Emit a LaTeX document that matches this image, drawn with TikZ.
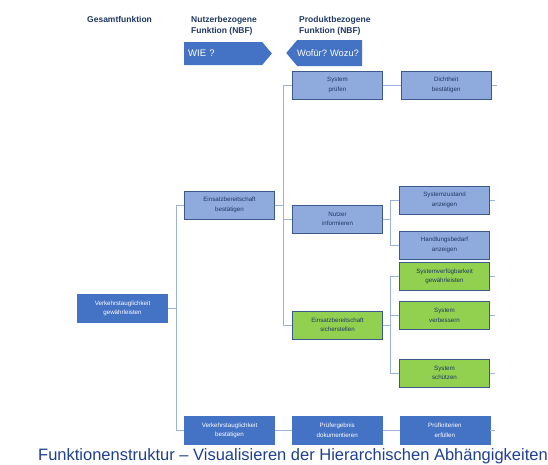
\documentclass[tikz,border=0pt]{standalone}
\usepackage{fontspec}
\setmainfont{Liberation Sans}
\usepackage{tikz}
\usetikzlibrary{positioning, shapes.symbols}
\definecolor{nbfblue}{HTML}{4472C4}
\definecolor{paleblue}{HTML}{8FAADC}
\definecolor{fitgreen}{HTML}{92D050}
\definecolor{frameblue}{HTML}{3B5A8A}
\definecolor{navytext}{HTML}{1F3864}
\definecolor{linkblue}{HTML}{9DB3DD}
\definecolor{captionblue}{HTML}{1F3F8F}

\begin{document}
\begin{tikzpicture}[x=1pt, y=-1pt, font=\fontsize{6.2}{9.5}\selectfont,
    func/.style={rectangle, minimum width=90pt, minimum height=28pt, inner sep=1pt,
      align=center, text=navytext, draw=frameblue, line width=0.7pt, fill=paleblue},
    goal/.style={func, fill=nbfblue, draw=nbfblue, text=white},
    fitbox/.style={func, fill=fitgreen},
    link/.style={draw=linkblue, line width=0.8pt},
    head/.style={anchor=base west, align=left, inner sep=0pt, text=navytext,
      font=\fontsize{8.5}{11}\selectfont\bfseries}]

    \useasboundingbox (0,0) rectangle (548,464);

    % column headers
    \node (hgesamt) [head] at (87,22.7) {Gesamtfunktion};
    \node (hnutzer) [head] at (191,33.3) {Nutzerbezogene\\Funktion (NBF)};
    \node (hprodukt) [head] at (299,33.3) {Produktbezogene\\Funktion (NBF)};

    \node (wie) [signal, signal to=east, signal pointer angle=100, fill=nbfblue, text=white,
      text width=70pt, align=left, inner xsep=4pt, inner ysep=0pt, minimum height=23pt,
      anchor=west, font=\fontsize{9.5}{11}\selectfont] at (184,53.5) {WIE ?};
    \node (wozu) [signal, signal to=west, signal pointer angle=100, fill=nbfblue, text=white,
      text width=65pt, align=left, inner xsep=0pt, inner ysep=0pt, minimum height=26pt,
      anchor=west, font=\fontsize{9.3}{11}\selectfont] at (286,53) {Wofür?~Wozu?};

    % boxes
    \node (gesamt) [goal] at (122.5,308.5) {Verkehrstauglichkeit\\gewährleisten};
    \node (einsBest) [func] at (229.5,205) {Einsatzbereitschaft\\bestätigen};
    \node (verkBest) [goal] at (229.5,430.5) {Verkehrstauglichkeit\\bestätigen};

    \node (sysPruef) [func] at (337.5,85) {System\\prüfen};
    \node (nutzInf) [func] at (337.5,219) {Nutzer\\informieren};
    \node (einsSich) [fitbox] at (337.5,325) {Einsatzbereitschaft\\sicherstellen};
    \node (prErg) [goal, right=17pt of verkBest] {Prüfergebnis\\dokumentieren};

    \node (dicht) [func, right=18pt of sysPruef] {Dichtheit\\bestätigen};
    \node (sysZust) [func] at (444.5,200) {Systemzustand\\anzeigen};
    \node (handl) [func] at (444.5,245) {Handlungsbedarf\\anzeigen};
    \node (sysVerf) [fitbox] at (444.5,276.5) {Systemverfügbarkeit\\gewährleisten};
    \node (sysVerb) [fitbox] at (444.5,315.5) {System\\verbessern};
    \node (sysSchutz) [fitbox] at (444.5,373) {System\\schützen};
    \node (prKrit) [goal, right=17pt of prErg] {Prüfkriterien\\erfüllen};

    % connectors
    \draw [link] (gesamt.east) -- ++(9,0) |- (einsBest.west);
    \draw [link] (gesamt.east) -- ++(9,0) |- (verkBest.west);
    \draw [link] (einsBest.east) -- ++(9,0) |- (sysPruef.west);
    \draw [link] (einsBest.east) -- ++(9,0) |- (nutzInf.west);
    \draw [link] (einsBest.east) -- ++(9,0) |- (einsSich.west);
    \draw [link] (sysPruef.east) -- (dicht.west);
    \draw [link] (nutzInf.east) -- ++(8,0) |- (sysZust.west);
    \draw [link] (nutzInf.east) -- ++(8,0) |- (handl.west);
    \draw [link] (einsSich.east) -- ++(8,0) |- (sysVerf.west);
    \draw [link] (einsSich.east) -- ++(8,0) |- (sysVerb.west);
    \draw [link] (einsSich.east) -- ++(8,0) |- (sysSchutz.west);
    \draw [link] (verkBest.east) -- (prErg.west);
    \draw [link] (prErg.east) -- (prKrit.west);
    \draw [link] (dicht.east) -- ++(5,0);
    \draw [link] (sysZust.east) -- ++(5,0);
    \draw [link] (sysVerf.east) -- ++(5,0);
    \draw [link] (sysVerb.east) -- ++(5,0);
    \draw [link] (sysSchutz.east) -- ++(5,0);
    \draw [link] (prKrit.east) -- ++(5,0);

    \node (caption) [anchor=base west, inner sep=0pt, text=captionblue,
      font=\fontsize{16.5}{20}\selectfont] at (38,460.5)
      {Funktionenstruktur – Visualisieren der Hierarchischen Abhängigkeiten};
\end{tikzpicture}
\end{document}
